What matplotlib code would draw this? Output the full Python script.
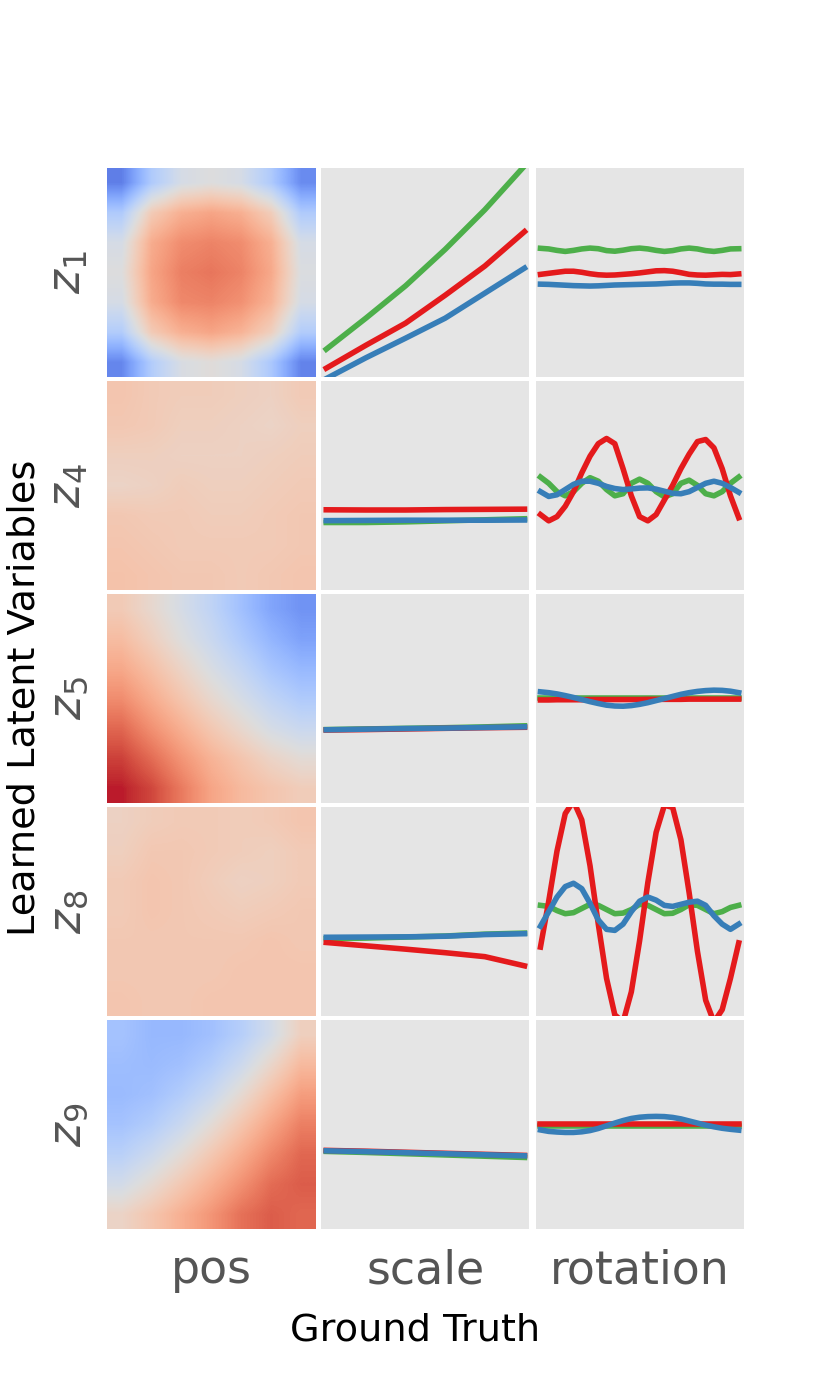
import numpy as np
import matplotlib
matplotlib.use("Agg")
import matplotlib.pyplot as plt

# latent rows and ground-truth columns
row_labels = [r"$z_1$", r"$z_4$", r"$z_5$", r"$z_8$", r"$z_9$"]
col_labels = ["pos", "scale", "rotation"]

# mean latent value over position (coolwarm fraction, top row first)
pos_z1 = [[0.12, 0.35, 0.47, 0.50, 0.47, 0.35, 0.15],
          [0.35, 0.60, 0.69, 0.72, 0.69, 0.59, 0.35],
          [0.47, 0.70, 0.78, 0.80, 0.78, 0.69, 0.47],
          [0.50, 0.72, 0.81, 0.83, 0.80, 0.71, 0.49],
          [0.47, 0.70, 0.79, 0.80, 0.77, 0.68, 0.47],
          [0.36, 0.60, 0.69, 0.72, 0.68, 0.58, 0.36],
          [0.14, 0.36, 0.48, 0.51, 0.47, 0.34, 0.13]]
pos_z4 = [[0.62, 0.60, 0.59, 0.59, 0.58, 0.57, 0.60],
          [0.61, 0.60, 0.58, 0.58, 0.57, 0.56, 0.58],
          [0.58, 0.58, 0.57, 0.57, 0.57, 0.58, 0.59],
          [0.56, 0.57, 0.59, 0.58, 0.58, 0.59, 0.60],
          [0.61, 0.60, 0.60, 0.59, 0.59, 0.60, 0.61],
          [0.62, 0.61, 0.60, 0.60, 0.60, 0.60, 0.61],
          [0.63, 0.62, 0.61, 0.61, 0.60, 0.61, 0.62]]
pos_z5 = [[0.60, 0.54, 0.47, 0.40, 0.31, 0.22, 0.17],
          [0.65, 0.58, 0.50, 0.43, 0.35, 0.27, 0.21],
          [0.71, 0.64, 0.56, 0.48, 0.41, 0.33, 0.28],
          [0.78, 0.70, 0.62, 0.54, 0.47, 0.40, 0.35],
          [0.86, 0.77, 0.69, 0.61, 0.54, 0.47, 0.43],
          [0.93, 0.85, 0.76, 0.68, 0.62, 0.56, 0.52],
          [0.98, 0.92, 0.82, 0.72, 0.66, 0.62, 0.59]]
pos_z8 = [[0.57, 0.59, 0.60, 0.60, 0.59, 0.60, 0.62],
          [0.58, 0.61, 0.61, 0.60, 0.59, 0.58, 0.60],
          [0.60, 0.62, 0.61, 0.59, 0.57, 0.58, 0.60],
          [0.60, 0.62, 0.61, 0.60, 0.59, 0.60, 0.61],
          [0.61, 0.61, 0.61, 0.61, 0.61, 0.62, 0.61],
          [0.61, 0.61, 0.61, 0.61, 0.62, 0.62, 0.62],
          [0.62, 0.61, 0.61, 0.62, 0.62, 0.62, 0.62]]
pos_z9 = [[0.32, 0.28, 0.28, 0.31, 0.37, 0.46, 0.58],
          [0.30, 0.29, 0.31, 0.36, 0.44, 0.55, 0.66],
          [0.29, 0.31, 0.36, 0.43, 0.53, 0.64, 0.74],
          [0.32, 0.36, 0.43, 0.52, 0.62, 0.72, 0.81],
          [0.38, 0.44, 0.52, 0.61, 0.70, 0.79, 0.86],
          [0.46, 0.53, 0.61, 0.69, 0.77, 0.85, 0.88],
          [0.56, 0.62, 0.69, 0.76, 0.84, 0.88, 0.86]]
pos_maps = [pos_z1, pos_z4, pos_z5, pos_z8, pos_z9]

# latent value vs scale (green, red, blue shapes)
scale_x = [0.5, 0.6, 0.7, 0.8, 0.9, 1.0]
scale_green = [[0.131, 0.28, 0.435, 0.61, 0.80, 1.01],
               [0.322, 0.322, 0.325, 0.330, 0.335, 0.340],
               [0.351, 0.354, 0.357, 0.360, 0.364, 0.369],
               [0.370, 0.373, 0.378, 0.383, 0.392, 0.397],
               [0.372, 0.367, 0.361, 0.355, 0.349, 0.343]]
scale_red = [[0.04, 0.15, 0.256, 0.39, 0.53, 0.695],
             [0.383, 0.382, 0.382, 0.384, 0.385, 0.386],
             [0.349, 0.351, 0.354, 0.357, 0.360, 0.362],
             [0.352, 0.336, 0.320, 0.303, 0.284, 0.240],
             [0.377, 0.373, 0.368, 0.363, 0.358, 0.353]]
scale_blue = [[-0.01, 0.09, 0.184, 0.28, 0.40, 0.52],
              [0.331, 0.332, 0.333, 0.333, 0.333, 0.334],
              [0.350, 0.353, 0.356, 0.358, 0.361, 0.364],
              [0.377, 0.378, 0.379, 0.382, 0.390, 0.394],
              [0.375, 0.371, 0.366, 0.361, 0.356, 0.351]]

# latent value vs rotation
rot_x = np.linspace(0, 2 * np.pi, 25)
rot_green = [
    [0.615, 0.612, 0.605, 0.600, 0.605, 0.612, 0.616, 0.613, 0.604, 0.601, 0.606, 0.613, 0.616,
     0.612, 0.605, 0.600, 0.604, 0.612, 0.616, 0.612, 0.604, 0.600, 0.605, 0.612, 0.613],
    [0.54, 0.51, 0.47, 0.45, 0.47, 0.51, 0.537, 0.52, 0.48, 0.45, 0.46, 0.51, 0.53,
     0.51, 0.47, 0.445, 0.46, 0.51, 0.525, 0.50, 0.46, 0.45, 0.47, 0.51, 0.54],
    [0.503, 0.503, 0.503, 0.503, 0.503, 0.503, 0.503, 0.503, 0.503, 0.503, 0.503, 0.503, 0.503,
     0.503, 0.503, 0.503, 0.503, 0.503, 0.503, 0.503, 0.503, 0.503, 0.503, 0.503, 0.503],
    [0.53, 0.525, 0.505, 0.49, 0.495, 0.515, 0.535, 0.53, 0.51, 0.49, 0.493, 0.51, 0.535,
     0.53, 0.51, 0.49, 0.492, 0.51, 0.533, 0.53, 0.51, 0.49, 0.50, 0.52, 0.53],
    [0.494, 0.494, 0.494, 0.494, 0.494, 0.494, 0.494, 0.494, 0.494, 0.494, 0.494, 0.494, 0.494,
     0.494, 0.494, 0.494, 0.494, 0.494, 0.494, 0.494, 0.494, 0.494, 0.494, 0.494, 0.494]]
rot_red = [
    [0.49, 0.495, 0.50, 0.505, 0.505, 0.50, 0.493, 0.488, 0.486, 0.487, 0.49, 0.493, 0.497,
     0.502, 0.507, 0.508, 0.505, 0.498, 0.49, 0.487, 0.486, 0.488, 0.49, 0.489, 0.492],
    [0.36, 0.33, 0.35, 0.40, 0.47, 0.56, 0.64, 0.70, 0.725, 0.70, 0.58, 0.45, 0.35,
     0.33, 0.36, 0.43, 0.50, 0.58, 0.65, 0.71, 0.72, 0.68, 0.58, 0.45, 0.345],
    [0.493, 0.493, 0.494, 0.494, 0.494, 0.494, 0.495, 0.495, 0.495, 0.495, 0.495, 0.495, 0.495,
     0.496, 0.496, 0.496, 0.496, 0.496, 0.497, 0.497, 0.497, 0.497, 0.497, 0.497, 0.497],
    [0.33, 0.55, 0.79, 0.97, 1.03, 0.94, 0.72, 0.44, 0.18, 0.005, -0.03, 0.115, 0.36,
     0.64, 0.88, 1.01, 1.0, 0.845, 0.59, 0.31, 0.075, -0.03, 0.03, 0.18, 0.35],
    [0.505, 0.505, 0.505, 0.505, 0.505, 0.505, 0.505, 0.505, 0.505, 0.505, 0.505, 0.505, 0.505,
     0.505, 0.505, 0.505, 0.505, 0.505, 0.505, 0.505, 0.505, 0.505, 0.505, 0.505, 0.505]]
rot_blue = [
    [0.443, 0.442, 0.44, 0.438, 0.436, 0.435, 0.434, 0.435, 0.437, 0.439, 0.44, 0.441, 0.442,
     0.443, 0.444, 0.446, 0.448, 0.449, 0.449, 0.447, 0.444, 0.443, 0.443, 0.442, 0.442],
    [0.47, 0.447, 0.455, 0.48, 0.505, 0.52, 0.52, 0.51, 0.495, 0.485, 0.48, 0.483, 0.487,
     0.488, 0.482, 0.472, 0.462, 0.46, 0.47, 0.49, 0.51, 0.52, 0.51, 0.49, 0.467],
    [0.532, 0.528, 0.522, 0.514, 0.505, 0.495, 0.485, 0.476, 0.468, 0.464, 0.463, 0.466, 0.472,
     0.48, 0.49, 0.50, 0.51, 0.52, 0.528, 0.534, 0.538, 0.54, 0.539, 0.535, 0.528],
    [0.43, 0.50, 0.57, 0.62, 0.636, 0.61, 0.54, 0.46, 0.415, 0.41, 0.44, 0.50, 0.55,
     0.57, 0.555, 0.53, 0.525, 0.535, 0.545, 0.55, 0.53, 0.48, 0.44, 0.415, 0.44],
    [0.475, 0.468, 0.465, 0.463, 0.463, 0.466, 0.472, 0.482, 0.495, 0.508, 0.52, 0.53, 0.536,
     0.539, 0.54, 0.539, 0.535, 0.528, 0.518, 0.508, 0.498, 0.49, 0.483, 0.478, 0.474]]

colors = {"green": "#4daf4a", "red": "#e41a1c", "blue": "#377eb8"}

plt.style.use("ggplot")
fig, axes = plt.subplots(5, 3, figsize=(8.3, 13.84), dpi=100)
fig.subplots_adjust(left=0.129, right=0.896, top=0.8786, bottom=0.112,
                    wspace=0.029, hspace=0.022)

for r in range(5):
    ax = axes[r, 0]
    ax.imshow(np.array(pos_maps[r]), cmap="coolwarm", vmin=0, vmax=1,
              interpolation="bilinear", aspect="auto", extent=(0, 1, 0, 1))
    ax.set_ylabel(row_labels[r], fontsize=33, color="#555555", labelpad=12)

    ax = axes[r, 1]
    ax.plot(scale_x, scale_green[r], color=colors["green"], lw=4)
    ax.plot(scale_x, scale_red[r], color=colors["red"], lw=4)
    ax.plot(scale_x, scale_blue[r], color=colors["blue"], lw=4)
    ax.margins(x=0.025)
    ax.set_ylim(0, 1)

    ax = axes[r, 2]
    ax.plot(rot_x, rot_green[r], color=colors["green"], lw=4)
    ax.plot(rot_x, rot_red[r], color=colors["red"], lw=4)
    ax.plot(rot_x, rot_blue[r], color=colors["blue"], lw=4)
    ax.margins(x=0.025)
    ax.set_ylim(0, 1)

for ax in axes.flat:
    ax.set_facecolor("#E5E5E5")
    ax.set_xticks([])
    ax.set_yticks([])
    ax.grid(False)
    for s in ax.spines.values():
        s.set_visible(False)

for c in range(3):
    axes[4, c].set_xlabel(col_labels[c], fontsize=33, color="#555555", labelpad=14)

fig.text(0.5, 0.039, "Ground Truth", fontsize=27.5, color="black",
         ha="center", va="center")
fig.text(0.030, 0.496, "Learned Latent Variables", fontsize=27.5, color="black",
         ha="center", va="center", rotation=90)

fig.savefig("out.png", dpi=100)
